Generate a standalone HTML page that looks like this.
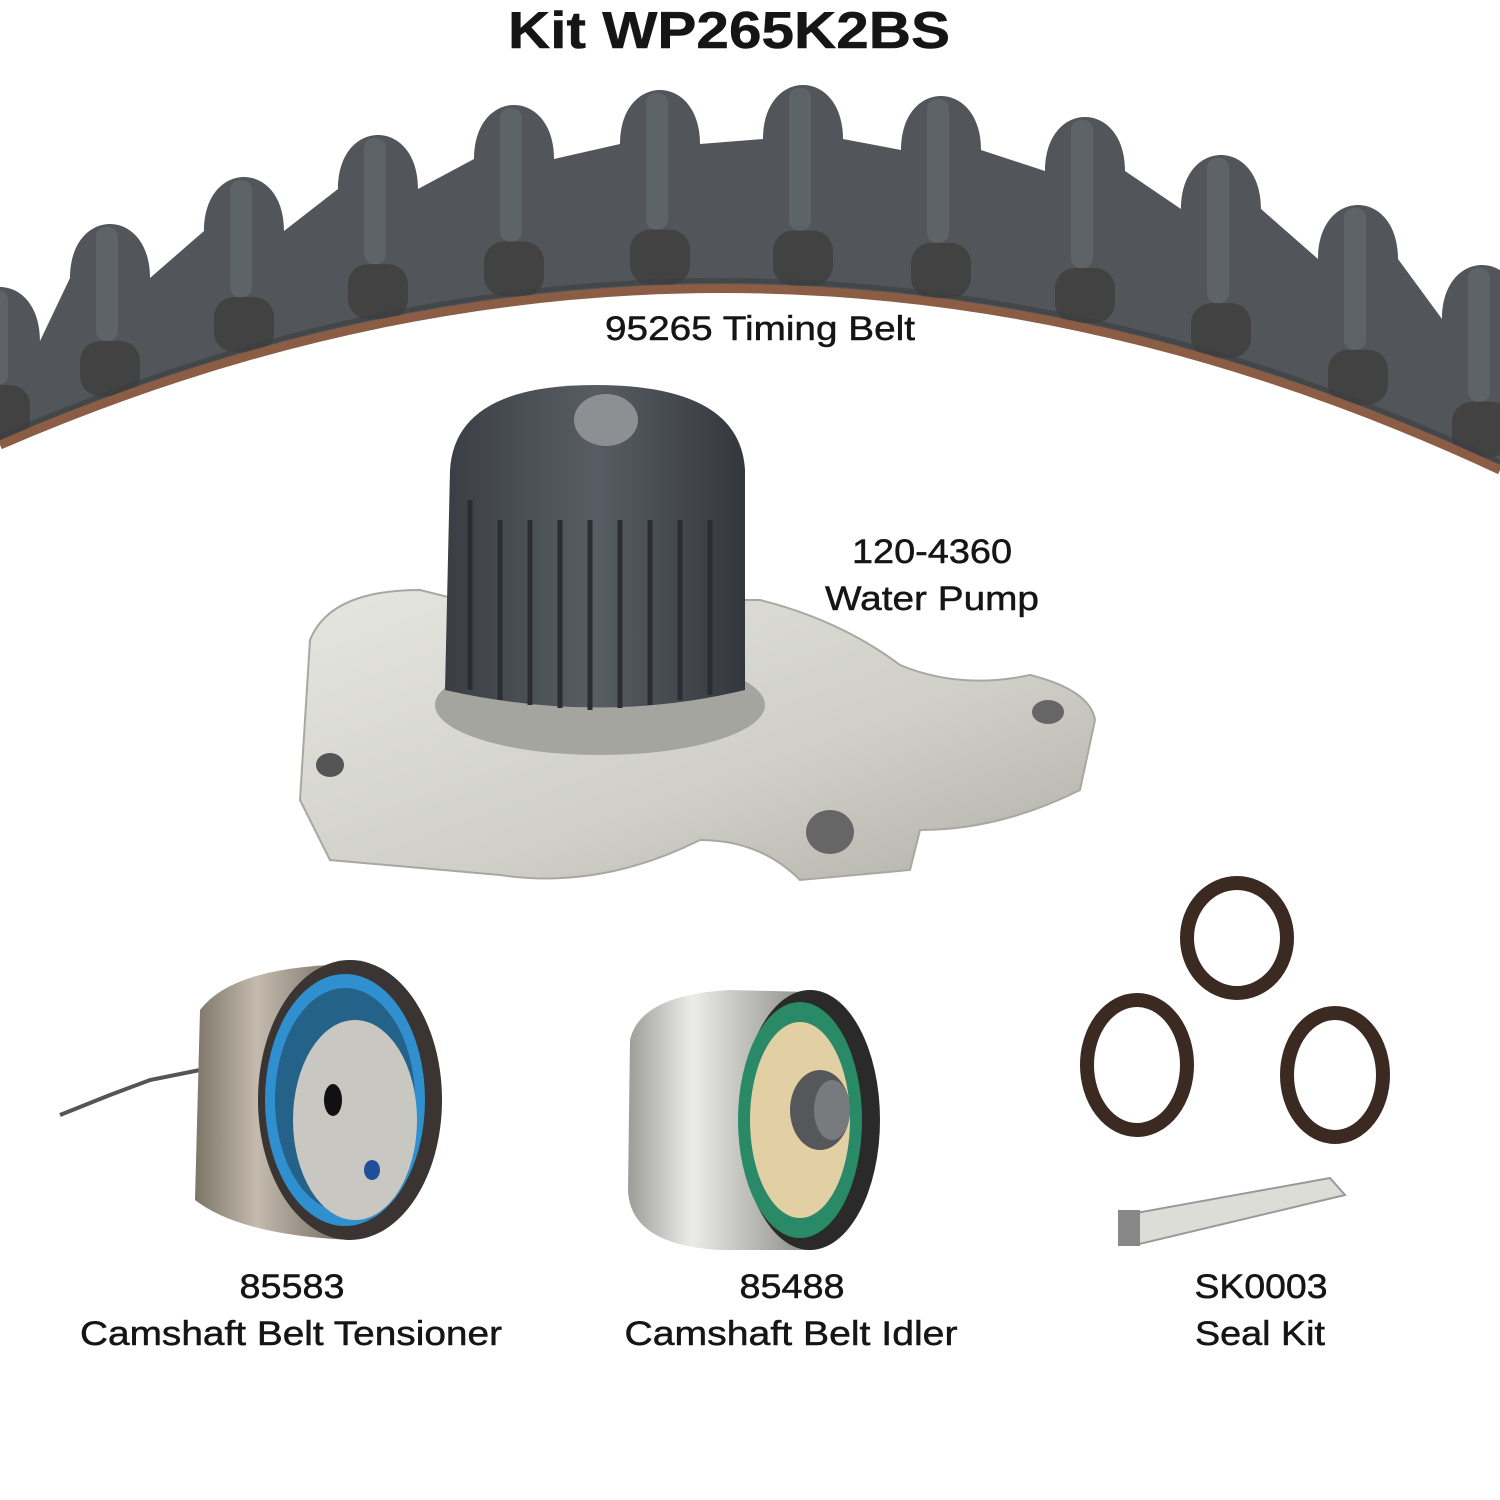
<!DOCTYPE html>
<html><head><meta charset="utf-8"><style>
html,body{margin:0;padding:0;background:#fff;}
svg{display:block}
text{font-family:"Liberation Sans",Arial,sans-serif;fill:#151515;stroke:#151515;stroke-width:0.5}
</style></head><body>
<svg id="s" width="1500" height="1500" viewBox="0 0 1500 1500" xmlns="http://www.w3.org/2000/svg">
<defs>
<linearGradient id="sil" x1="0" y1="0" x2="1" y2="1"><stop offset="0" stop-color="#e6e6e0"/><stop offset="0.6" stop-color="#cfcfc8"/><stop offset="1" stop-color="#b0b0a8"/></linearGradient>
<linearGradient id="spr" x1="0" y1="0" x2="1" y2="0"><stop offset="0" stop-color="#3a3e44"/><stop offset="0.5" stop-color="#585d64"/><stop offset="1" stop-color="#34383d"/></linearGradient>
<linearGradient id="cyl" x1="0" y1="0" x2="1" y2="0"><stop offset="0" stop-color="#9c9c98"/><stop offset="0.35" stop-color="#ececea"/><stop offset="1" stop-color="#8a8a86"/></linearGradient>
<linearGradient id="tens" x1="0" y1="0" x2="1" y2="0"><stop offset="0" stop-color="#7d7468"/><stop offset="0.4" stop-color="#c4bbae"/><stop offset="1" stop-color="#6e665c"/></linearGradient>
</defs>
<text x="729" y="48" font-size="52" font-weight="bold" text-anchor="middle" textLength="442" lengthAdjust="spacingAndGlyphs">Kit WP265K2BS</text>

<path id="belt" fill="#52565a"/>
<g id="shade"></g>
<path d="M0,445 Q750,120 1500,470" fill="none" stroke="#8a5d44" stroke-width="9"/>
<path d="M0,437 Q750,112 1500,462" fill="none" stroke="#3a3d40" stroke-width="5" opacity="0.6"/>
<text x="760" y="340" font-size="34" text-anchor="middle" textLength="310" lengthAdjust="spacingAndGlyphs">95265 Timing Belt</text>

<!-- water pump -->
<path d="M300,800 L310,640 Q330,590 420,590 L460,600 L760,600 Q840,620 900,665 Q960,690 1030,675 Q1090,690 1095,720 L1080,790 Q1000,830 920,830 L910,870 L800,880 Q760,840 700,840 Q600,890 500,875 L330,860 Z" fill="url(#sil)" stroke="#a8a8a2" stroke-width="2"/>
<ellipse cx="330" cy="765" rx="14" ry="12" fill="#555"/>
<ellipse cx="1048" cy="712" rx="16" ry="12" fill="#666"/>
<ellipse cx="830" cy="832" rx="24" ry="22" fill="#666"/>
<ellipse cx="600" cy="705" rx="165" ry="50" fill="#a5a59f"/>
<path d="M450,470 Q455,385 595,385 Q740,385 745,470 L745,690 Q600,725 445,690 Z" fill="url(#spr)"/>
<g stroke="#2a2d31" stroke-width="5">
<line x1="470" y1="500" x2="470" y2="690"/><line x1="500" y1="520" x2="500" y2="700"/><line x1="530" y1="520" x2="530" y2="705"/><line x1="560" y1="520" x2="560" y2="708"/><line x1="590" y1="520" x2="590" y2="710"/><line x1="620" y1="520" x2="620" y2="708"/><line x1="650" y1="520" x2="650" y2="705"/><line x1="680" y1="520" x2="680" y2="700"/><line x1="710" y1="520" x2="710" y2="695"/>
</g>
<ellipse cx="606" cy="420" rx="32" ry="26" fill="#8e8f92"/>
<text x="932" y="563" font-size="34" text-anchor="middle" textLength="160" lengthAdjust="spacingAndGlyphs">120-4360</text>
<text x="932" y="610" font-size="34" text-anchor="middle" textLength="214" lengthAdjust="spacingAndGlyphs">Water Pump</text>

<!-- tensioner -->
<path d="M60,1115 L110,1095 L150,1080 L200,1070" stroke="#555" stroke-width="4" fill="none"/>
<path d="M200,1010 Q230,970 330,965 L350,1240 Q240,1235 195,1200 Z" fill="url(#tens)"/>
<ellipse cx="350" cy="1100" rx="92" ry="140" fill="#3a3532"/>
<ellipse cx="345" cy="1100" rx="80" ry="126" fill="#2f8fcf"/>
<ellipse cx="345" cy="1100" rx="70" ry="112" fill="#25628a"/>
<ellipse cx="355" cy="1120" rx="62" ry="100" fill="#c9c7c2"/>
<ellipse cx="333" cy="1100" rx="9" ry="16" fill="#111"/>
<ellipse cx="372" cy="1170" rx="8" ry="10" fill="#1f4f9a"/>

<!-- idler -->
<path d="M630,1040 Q640,995 730,990 L810,992 L810,1250 L720,1250 Q630,1245 628,1190 Z" fill="url(#cyl)"/>
<ellipse cx="810" cy="1120" rx="70" ry="130" fill="#2a2a2a"/>
<ellipse cx="800" cy="1120" rx="62" ry="118" fill="#2a8a68"/>
<ellipse cx="800" cy="1120" rx="50" ry="98" fill="#e3cfa4"/>
<ellipse cx="820" cy="1110" rx="30" ry="40" fill="#55575a"/>
<ellipse cx="832" cy="1110" rx="18" ry="30" fill="#787a7e"/>

<!-- seals -->
<g fill="none">
<ellipse cx="1237" cy="938" rx="50" ry="55" stroke="#3a2a22" stroke-width="14"/>
<ellipse cx="1137" cy="1065" rx="50" ry="65" stroke="#3a2a22" stroke-width="14"/>
<ellipse cx="1335" cy="1075" rx="48" ry="62" stroke="#3a2a22" stroke-width="14"/>
</g>
<path d="M1125,1215 L1330,1178 L1345,1195 L1135,1245 Z" fill="#ddddd8" stroke="#999" stroke-width="2"/>
<rect x="1118" y="1210" width="22" height="36" fill="#888"/>

<text x="292" y="1298" font-size="34" text-anchor="middle" textLength="105" lengthAdjust="spacingAndGlyphs">85583</text>
<text x="291" y="1345" font-size="34" text-anchor="middle" textLength="422" lengthAdjust="spacingAndGlyphs">Camshaft Belt Tensioner</text>
<text x="792" y="1298" font-size="34" text-anchor="middle" textLength="105" lengthAdjust="spacingAndGlyphs">85488</text>
<text x="791" y="1345" font-size="34" text-anchor="middle" textLength="333" lengthAdjust="spacingAndGlyphs">Camshaft Belt Idler</text>
<text x="1261" y="1298" font-size="34" text-anchor="middle" textLength="133" lengthAdjust="spacingAndGlyphs">SK0003</text>
<text x="1260" y="1345" font-size="34" text-anchor="middle" textLength="130" lengthAdjust="spacingAndGlyphs">Seal Kit</text>
</svg>
<script>
(function(){
var ns='http://www.w3.org/2000/svg';
var C=[0,110,244,378,514,660,803,941,1085,1221,1358,1482];
var T=[275,212,165,123,93,78,73,84,105,143,193,253];
var w=40,dv=66;
function inner(x){var t=x/1500;return (1-t)*(1-t)*445+2*t*(1-t)*120+t*t*470;}
var d='M0,'+inner(0)+' L0,'+(T[0]+dv);
var g=document.getElementById('shade');
for(var i=0;i<C.length;i++){
 var c=C[i],t=T[i],b=t+dv;
 d+=' L'+(c-w)+','+b+' C'+(c-w)+','+(t-6)+' '+(c+w)+','+(t-6)+' '+(c+w)+','+b;
 if(i<C.length-1){d+=' L'+(C[i+1]-w)+','+(T[i+1]+dv);}
 var yb=inner(c);
 var r=document.createElementNS(ns,'rect');
 r.setAttribute('x',c-30);r.setAttribute('y',yb-60);r.setAttribute('width',60);r.setAttribute('height',55);
 r.setAttribute('rx',20);r.setAttribute('fill','#3b3a36');r.setAttribute('opacity','0.7');g.appendChild(r);
 var l=document.createElementNS(ns,'rect');
 l.setAttribute('x',c-14);l.setAttribute('y',t+15);l.setAttribute('width',22);l.setAttribute('height',Math.max(10,yb-75-t));
 l.setAttribute('rx',10);l.setAttribute('fill','#62676b');l.setAttribute('opacity','0.8');g.appendChild(l);
}
d+=' L1500,'+(T[11]+dv)+' L1500,'+inner(1500);
for(var x=1500;x>=0;x-=25){d+=' L'+x+','+inner(x);}
d+=' Z';
document.getElementById('belt').setAttribute('d',d);
})();
</script>
</body></html>
